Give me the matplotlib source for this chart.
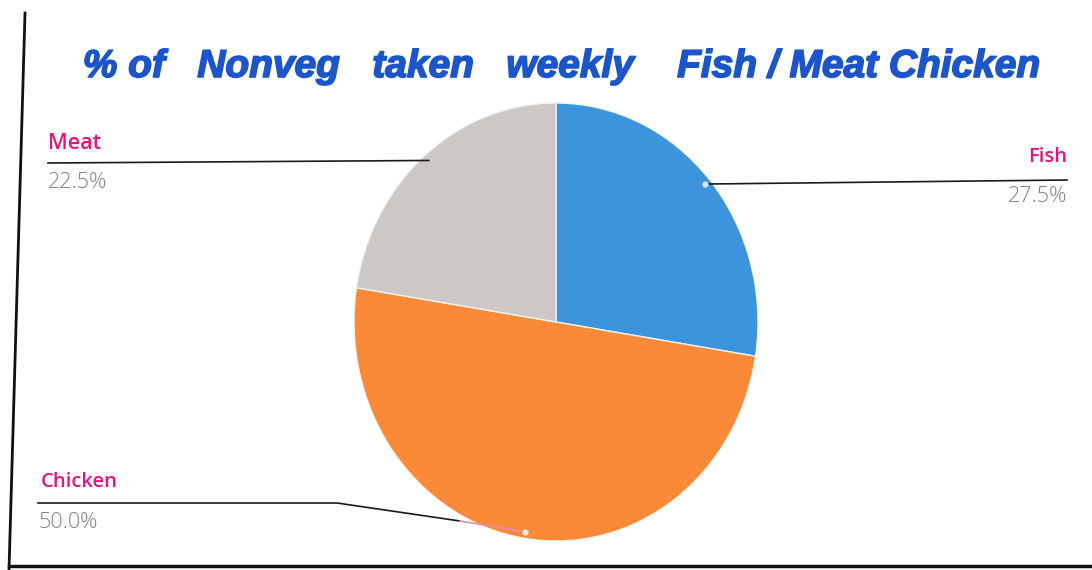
import numpy as np
import matplotlib
matplotlib.use("Agg")
import matplotlib.pyplot as plt
from matplotlib.lines import Line2D
import matplotlib.patheffects as pe

# ---- data ----
categories = ["Fish", "Chicken", "Meat"]
values = [27.5, 50.0, 22.5]
pct_labels = ["27.5%", "50.0%", "22.5%"]
colors = ["#3c94dc", "#fa8a38", "#cbc8c6"]
title = "% of   Nonveg   taken   weekly    Fish / Meat Chicken"

W, H = 1092, 570
fig = plt.figure(figsize=(W / 100, H / 100), dpi=100)
fig.patch.set_facecolor("white")

# pie axes (slightly elliptical as in the photo)
pl, pr, pt, pb = 354, 758, 103, 541
axp = fig.add_axes([pl / W, (H - pb) / H, (pr - pl) / W, (pb - pt) / H])
wedges, _ = axp.pie(values, colors=colors, startangle=90, counterclock=False,
                    wedgeprops=dict(edgecolor="#f2f2f2", linewidth=1.0))
axp.set_aspect("auto")
axp.set_xlim(-1, 1)
axp.set_ylim(-1, 1)
axp.axis("off")

# overlay axes in pixel coordinates (y downward), drawn above the pie
ov = fig.add_axes([0, 0, 1, 1])
ov.set_xlim(0, W)
ov.set_ylim(H, 0)
ov.axis("off")
ov.patch.set_alpha(0)
ov.set_zorder(5)

# leader anchor points at the wedge mid-angles
def anchor(i, r=0.97):
    w = wedges[i]
    ang = np.deg2rad((w.theta1 + w.theta2) / 2)
    p = (r * np.cos(ang), r * np.sin(ang))
    disp = axp.transData.transform(p)
    return ov.transData.inverted().transform(disp)

name_color = "#e5157a"
pct_color = "#868082"
lab_font = "Open Sans"
name_size = 14.5
pct_size = 15.5

# Fish (right)
fx, fy = anchor(0)
ov.add_line(Line2D([fx, 1067], [fy, 180], color="#1a1a1a", lw=1.2))
ov.plot([fx], [fy], "o", ms=3.5, color="#e0e0e0", zorder=6)
ov.text(1067, 162, categories[0], color=name_color, fontsize=name_size, fontweight="semibold",
        family=lab_font, ha="right", va="baseline")
ov.text(1067, 202, pct_labels[0], color=pct_color, fontsize=pct_size, fontweight="light",
        family=lab_font, ha="right", va="baseline")

# Chicken (bottom left)
cx, cy = anchor(1)
ov.add_line(Line2D([38, 337, 460], [503, 503, 521], color="#1a1a1a", lw=1.2))
ov.add_line(Line2D([460, cx], [521, cy], color="#e98aa0", lw=1.2))
ov.plot([cx], [cy], "o", ms=3.5, color="#d8eef5", zorder=6)
ov.text(41, 487, categories[1], color=name_color, fontsize=name_size, fontweight="semibold",
        family=lab_font, ha="left", va="baseline")
ov.text(38, 528, pct_labels[1], color=pct_color, fontsize=pct_size, fontweight="light",
        family=lab_font, ha="left", va="baseline")

# Meat (top left)
mx, my = anchor(2)
ov.add_line(Line2D([48, mx], [163, my], color="#1a1a1a", lw=1.2))
ov.text(48, 149, categories[2], color=name_color, fontsize=name_size + 1, fontweight="semibold",
        family=lab_font, ha="left", va="baseline")
ov.text(48, 188, pct_labels[2], color=pct_color, fontsize=pct_size, fontweight="light",
        family=lab_font, ha="left", va="baseline")

# title
ov.text(561, 77, title, color="#1c55c9", fontsize=28, fontweight="bold", style="italic",
        family="Liberation Sans", ha="center", va="baseline",
        path_effects=[pe.withStroke(linewidth=1.2, foreground="#1c55c9")])

# photo frame edges
ov.add_line(Line2D([25, 9], [13, 570], color="#111111", lw=2))
ov.add_line(Line2D([9, W], [566, 566], color="#111111", lw=2.5))

fig.savefig("out.png", dpi=100, facecolor="white")
